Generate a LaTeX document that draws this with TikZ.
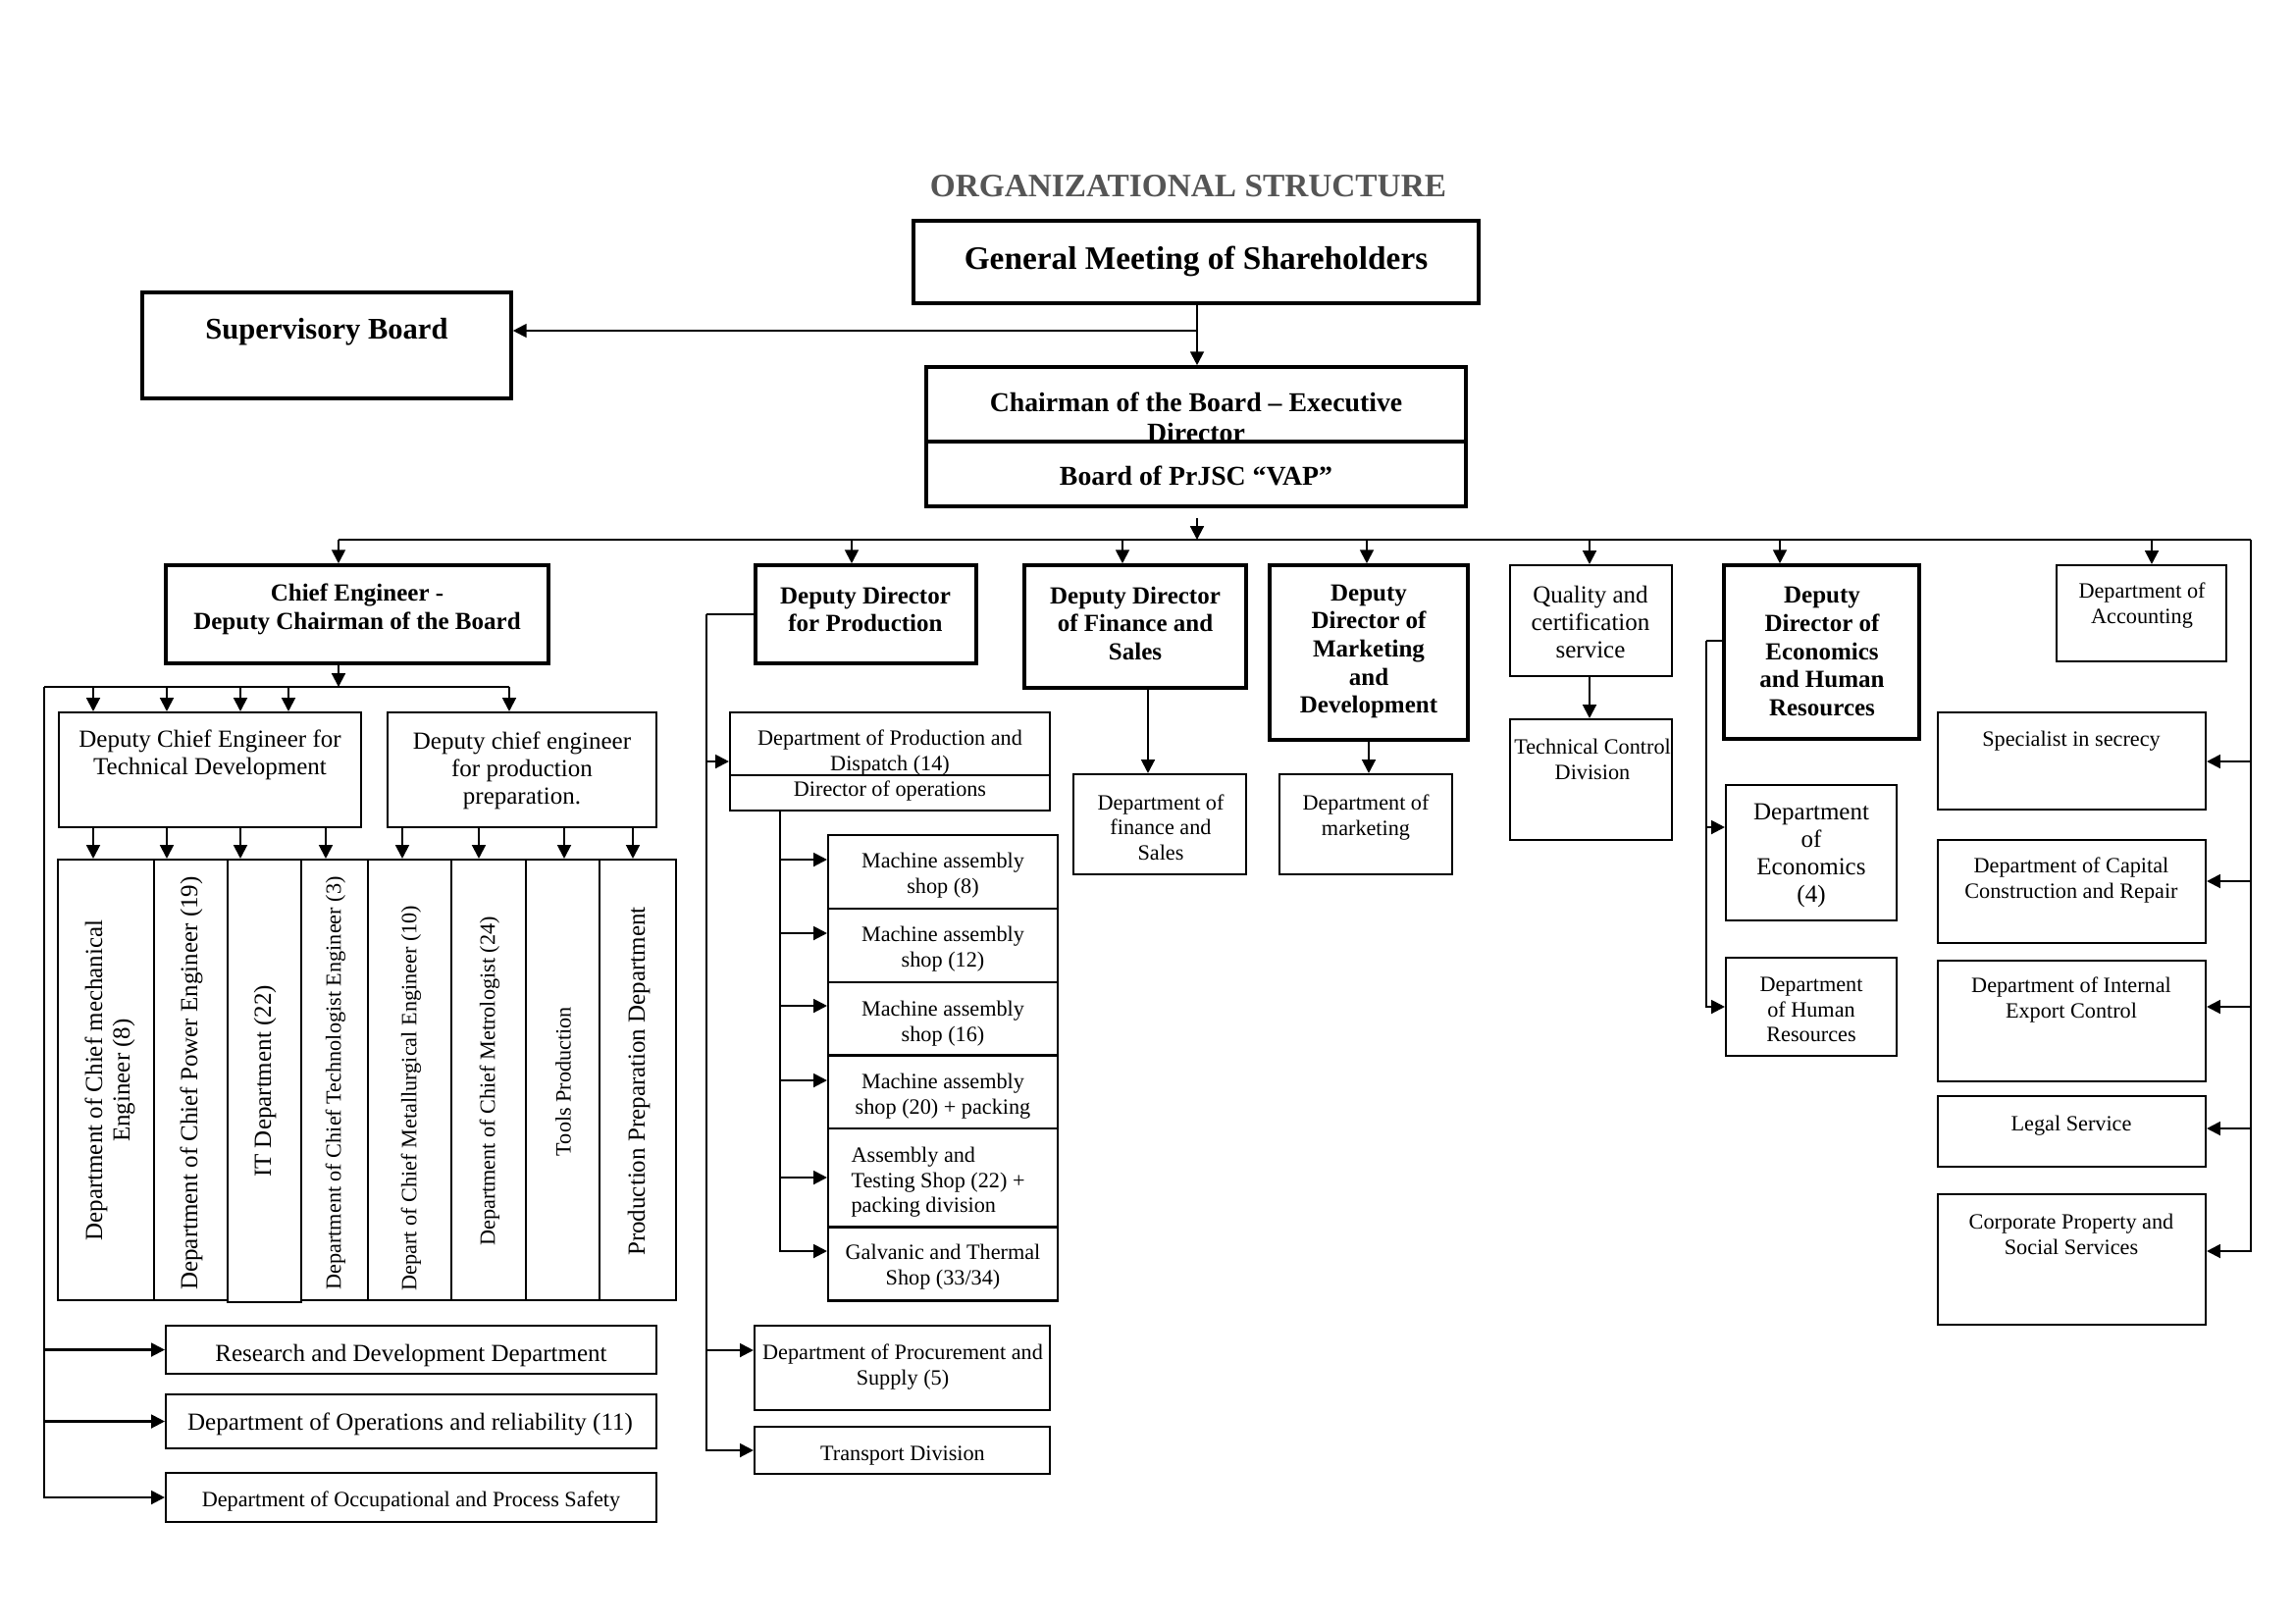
\documentclass[tikz,border=0pt]{standalone}
\usepackage{fontspec}
\setmainfont{Liberation Serif}
\usetikzlibrary{arrows.meta,fit}
\definecolor{titlegray}{RGB}{85,85,85}
\begin{document}
\begin{tikzpicture}[x=0.36pt,y=-0.36pt,
  every node/.style={inner sep=0pt},
  bx/.style={draw, line width=1.3pt, inner sep=0pt},
  bn/.style={draw, line width=0.75pt, inner sep=0pt},
  ra/.style={align=center, font=\fontsize{8}{9.2}\selectfont, rotate=90},
  rb/.style={align=center, font=\fontsize{9}{10.1}\selectfont, rotate=90},
  ta/.style={align=center, yshift=-1.1pt, font=\fontsize{8}{9.2}\selectfont},
  tb/.style={align=center, yshift=-1.1pt, font=\fontsize{9}{10.1}\selectfont},
  tc/.style={align=center, yshift=-1.1pt, font=\bfseries\fontsize{9}{10.3}\selectfont},
  td/.style={align=center, yshift=-0.8pt, font=\bfseries\fontsize{10}{11.3}\selectfont},
  te/.style={align=center, yshift=-1.1pt, font=\bfseries\fontsize{11}{13}\selectfont},
  tf/.style={align=center, yshift=-1.1pt, font=\bfseries\fontsize{12}{14}\selectfont},
  ln/.style={line width=0.75pt},
  arr/.style={line width=0.75pt, -{Triangle[length=5pt,width=5pt]}}]
\useasboundingbox (0,0) rectangle (2339,1654);
\fill[white] (0,0) rectangle (2339,1654);

% title
\node[tf, text=titlegray] (title) at (1211,187) {ORGANIZATIONAL STRUCTURE};

% top level
\node[bx, fit={(931,225) (1507,309)}] (gm) {};
\node[tf] (gmt) at (1219,263) {General Meeting of Shareholders};
\node[bx, fit={(145,298) (521,406)}] (sup) {};
\node[te] (supt) at (333,335) {Supervisory Board};
\node[bx, fit={(944,374) (1494,450)}] (chair) {};
\node[td] (chairt) at (1219,423) {Chairman of the Board – Executive\\Director};
\node[bx, fit={(944,450) (1494,516)}] (board) {};
\node[td] (boardt) at (1219,483) {Board of PrJSC “VAP”};

\coordinate (gmj) at (1220,337);
\draw[arr] (1220,0 |- gm.south) -- (1220,0 |- chair.north);
\draw[arr] (gmj) -- (gmj -| sup.east);

% main bus
\coordinate (busL) at (345,550);
\coordinate (busR) at (2294,550);
\draw[arr, shorten <=3.5pt] (1220,0 |- board.south) -- (1220,0 |- busL);
\draw[ln] (busL) -- (busR);

% level 2
\node[bx, fit={(169,576) (559,676)}] (ce) {};
\node[tc] (cet) at (364,618) {Chief Engineer -\\Deputy Chairman of the Board};
\node[bx, fit={(770,576) (995,676)}] (ddp) {};
\node[tc] (ddpt) at (882,618) {Deputy Director\\for Production};
\node[bx, fit={(1044,576) (1270,701)}] (ddf) {};
\node[tc] (ddft) at (1157,632) {Deputy Director\\of Finance and\\Sales};
\node[bx, fit={(1294,576) (1496,754)}] (ddm) {};
\node[tc] (ddmt) at (1395,661) {Deputy\\Director of\\Marketing\\and\\Development};
\node[bn, fit={(1539,576) (1704,689)}] (qual) {};
\node[tb] (qualt) at (1621,631) {Quality and\\certification\\service};
\node[bx, fit={(1757,576) (1956,753)}] (dde) {};
\node[tc] (ddet) at (1857,661) {Deputy\\Director of\\Economics\\and Human\\Resources};
\node[bn, fit={(2096,576) (2269,674)}] (acc) {};
\node[ta] (acct) at (2183,614) {Department of\\Accounting};

\foreach \n/\xx in {ce/345, ddp/868, ddf/1144, ddm/1393, qual/1620, dde/1814, acc/2193}
  \draw[arr] (\xx,0 |- busL) -- (\xx,0 |- \n.north);

% right side
\node[bn, fit={(1975,726) (2248,825)}] (spec) {};
\node[ta] (spect) at (2111,752) {Specialist in secrecy};
\node[bn, fit={(1975,856) (2248,961)}] (cap) {};
\node[ta] (capt) at (2111,894) {Department of Capital\\Construction and Repair};
\node[bn, fit={(1975,979) (2248,1102)}] (iec) {};
\node[ta] (iect) at (2111,1016) {Department of Internal\\Export Control};
\node[bn, fit={(1975,1117) (2248,1189)}] (legal) {};
\node[ta] (legalt) at (2111,1144) {Legal Service};
\node[bn, fit={(1975,1217) (2248,1350)}] (corp) {};
\node[ta] (corpt) at (2111,1255) {Corporate Property and\\Social Services};
\coordinate (rB) at (2294,1275);
\draw[arr] (busR) |- (rB -| corp.east);
\foreach \n/\yy in {spec/776, cap/898, iec/1026, legal/1150}
  \draw[arr] (busR |- 0,\yy) -- (\n.east |- 0,\yy);

% chief engineer branch
\coordinate (b2L) at (45,700);
\coordinate (b2R) at (519,700);
\draw[arr] (busL |- ce.south) -- (busL |- b2L);
\draw[ln] (b2L) -- (b2R);
\node[bn, fit={(60,726) (368,843)}] (dcet) {};
\node[tb] (dcett) at (214,766) {Deputy Chief Engineer for\\Technical Development};
\node[bn, fit={(395,726) (669,843)}] (dcep) {};
\node[tb] (dcept) at (532,782) {Deputy chief engineer\\for production\\preparation.};
\draw[arr] (b2R) -- (b2R |- dcep.north);
\foreach \xx in {95,170,245,294}
  \draw[arr] (\xx,0 |- b2L) -- (\xx,0 |- dcet.north);

\node[bn, fit={(59,876) (157,1325)}] (c1) {};
\node[bn, fit={(157,876) (232,1325)}] (c2) {};
\node[bn, fit={(232,876) (307,1327)}] (c3) {};
\node[bn, fit={(307,876) (375,1325)}] (c4) {};
\node[bn, fit={(375,876) (460,1325)}] (c5) {};
\node[bn, fit={(460,876) (536,1325)}] (c6) {};
\node[bn, fit={(536,876) (611,1325)}] (c7) {};
\node[bn, fit={(611,876) (689,1325)}] (c8) {};
\node[rb] (c1t) at (112,1101) {Department of Chief mechanical\\Engineer (8)};
\node[rb] (c2t) at (195,1104) {Department of Chief Power Engineer (19)};
\node[rb] (c3t) at (270,1102) {IT Department (22)};
\node[ra] (c4t) at (342,1104) {Department of Chief Technologist Engineer (3)};
\node[ra] (c5t) at (419,1119) {Depart of Chief Metallurgical Engineer (10)};
\node[ra] (c6t) at (499,1102) {Department of Chief Metrologist (24)};
\node[ra] (c7t) at (574,1102) {Tools Production};
\node[rb] (c8t) at (651,1102) {Production Preparation Department};
\foreach \xx in {95,170,245,332}
  \draw[arr] (\xx,0 |- dcet.south) -- (\xx,0 |- c1.north);
\foreach \xx in {410,488,575,645}
  \draw[arr] (\xx,0 |- dcep.south) -- (\xx,0 |- c1.north);

\node[bn, fit={(169,1351) (669,1400)}] (rd) {};
\node[tb] (rdt) at (419,1378) {Research and Development Department};
\node[bn, fit={(169,1421) (669,1476)}] (ops) {};
\node[tb] (opst) at (418,1448) {Department of Operations and reliability (11)};
\node[bn, fit={(169,1501) (669,1551)}] (occ) {};
\node[ta] (occt) at (419,1527) {Department of Occupational and Process Safety};
\draw[arr] (b2L) |- (occ.west);
\draw[arr] (b2L |- rd.west) -- (rd.west);
\draw[arr] (b2L |- ops.west) -- (ops.west);

% production branch
\coordinate (pL) at (720,626);
\node[bn, fit={(744,726) (1070,826)}] (pd) {};
\draw[ln] (pd.west |- 0,790) -- (pd.east |- 0,790);
\node[ta] (pdt) at (907,764) {Department of Production and\\Dispatch (14)};
\node[ta] (pdo) at (907,803) {Director of operations};
\draw[ln] (ddp.west) -- (pL);
\draw[arr] (pL |- pd.west) -- (pd.west);
\node[bn, fit={(769,1351) (1070,1437)}] (proc) {};
\node[ta] (proct) at (920,1390) {Department of Procurement and\\Supply (5)};
\node[bn, fit={(769,1454) (1070,1502)}] (trans) {};
\node[ta] (transt) at (920,1480) {Transport Division};
\draw[arr] (pL) |- (trans.west);
\draw[arr] (pL |- 0,1376) -- (proc.west |- 0,1376);

\node[bn, fit={(844,851) (1078,926)}] (s1) {};
\node[bn, fit={(844,926) (1078,1001)}] (s2) {};
\node[bn, fit={(844,1001) (1078,1075.5)}] (s3) {};
\node[bn, fit={(844,1075.5) (1078,1150)}] (s4) {};
\node[bn, fit={(844,1150) (1078,1250.5)}] (s5) {};
\node[bn, fit={(844,1250.5) (1078,1325.5)}] (s6) {};
\node[ta] (s1t) at (961,889) {Machine assembly\\shop (8)};
\node[ta] (s2t) at (961,964) {Machine assembly\\shop (12)};
\node[ta] (s3t) at (961,1040) {Machine assembly\\shop (16)};
\node[ta] (s4t) at (961,1114) {Machine assembly\\shop (20) + packing};
\node[ta, align=left, anchor=west] (s5t) at (867,1202) {Assembly and\\Testing Shop (22) +\\packing division};
\node[ta] (s6t) at (961,1288) {Galvanic and Thermal\\Shop (33/34)};
\coordinate (sT) at (795,826);
\draw[arr] (sT) |- (s6.west |- 0,1275);
\foreach \n/\yy in {s1/876, s2/951, s3/1025, s4/1101, s5/1200}
  \draw[arr] (sT |- 0,\yy) -- (\n.west |- 0,\yy);

% finance, marketing, quality
\node[bn, fit={(1094,789) (1270,891)}] (dfs) {};
\node[ta] (dfst) at (1183,840) {Department of\\finance and\\Sales};
\draw[arr] (1170,0 |- ddf.south) -- (1170,0 |- dfs.north);
\node[bn, fit={(1304,789) (1480,891)}] (dm) {};
\node[ta] (dmt) at (1392,830) {Department of\\marketing};
\draw[arr] (1395,0 |- ddm.south) -- (1395,0 |- dm.north);
\node[bn, fit={(1539,733) (1704,856)}] (tcd) {};
\node[ta] (tcdt) at (1623,771) {Technical Control\\Division};
\draw[arr] (1620,0 |- qual.south) -- (1620,0 |- tcd.north);

% economics
\coordinate (eL) at (1739,653);
\node[bn, fit={(1759,800) (1933,938)}] (de) {};
\node[tb] (det) at (1846,869) {Department\\of\\Economics\\(4)};
\node[bn, fit={(1759,976) (1933,1076)}] (dhr) {};
\node[ta] (dhrt) at (1846,1026) {Department\\of Human\\Resources};
\draw[ln] (dde.west |- eL) -- (eL);
\draw[arr] (eL) |- (dhr.west);
\draw[arr] (eL |- 0,843) -- (de.west |- 0,843);
\end{tikzpicture}
\end{document}
